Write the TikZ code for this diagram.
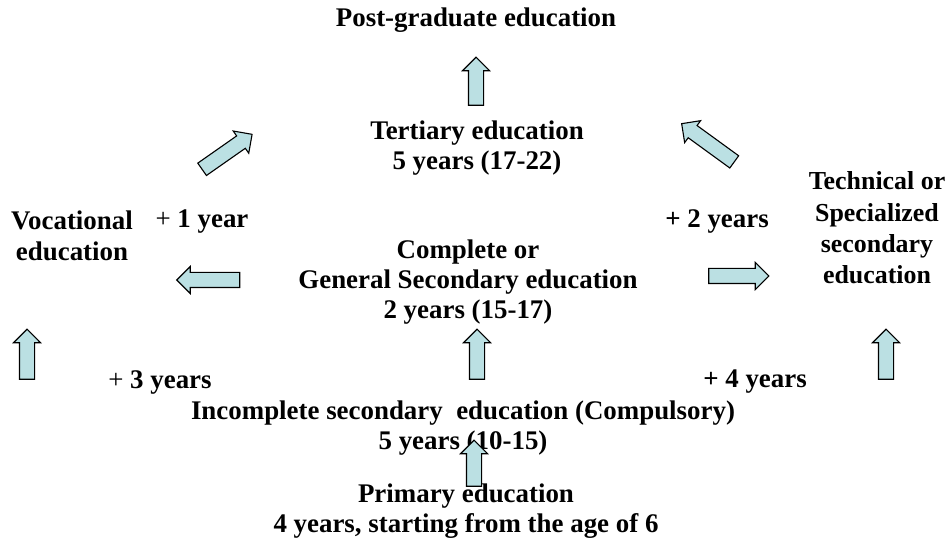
\documentclass[tikz,border=0pt]{standalone}
\usepackage{fontspec}
\setmainfont{Liberation Serif}
\usetikzlibrary{shapes.arrows}
\definecolor{arrowfill}{RGB}{187,224,227}
\begin{document}
\begin{tikzpicture}[
    lbl/.style={align=center,font=\bfseries\fontsize{27}{30.5}\selectfont,inner sep=0pt},
    blockarrow/.style={draw=black,line width=1.1bp,fill=arrowfill,single arrow,
      single arrow head extend=6bp,inner sep=0pt,inner ysep=7bp,
      minimum width=0pt,minimum height=#1},
    blockarrow/.default=48bp]
		%%
  \useasboundingbox (0bp,0bp) rectangle (951bp,549bp);
  \node (Post) at (476bp,529bp) [lbl] {Post-graduate education};
  \node (Tert) at (477bp,401bp) [lbl] {Tertiary education\\5 years (17-22)};
  \node (Voc) at (72bp,313bp) [lbl] {Vocational\\education};
  \node (Gen) at (468bp,267bp) [lbl] {Complete or\\General Secondary education\\2 years (15-17)};
  \node (Tech) at (877bp,321bp) [lbl,font=\bfseries\fontsize{26}{31.5}\selectfont] {Technical or\\Specialized\\secondary\\education};
  \node (Inc) at (463bp,121bp) [lbl] {Incomplete secondary~ education (Compulsory)\\5 years (10-15)};
  \node (Prim) at (466bp,38bp) [lbl] {Primary education\\4 years, starting from the age of 6};
  \node (One) at (202bp,327bp) [lbl] {{\mdseries +} 1 year};
  \node (Two) at (717bp,327bp) [lbl] {+ 2 years};
  \node (Three) at (160bp,167bp) [lbl] {{\mdseries +} 3 years};
  \node (Four) at (755bp,167bp) [lbl] {+ 4 years};
  \node (TopUp) at (476bp,464bp) [blockarrow,rotate=90] {};
  \node (DiagL) at (224bp,395bp) [blockarrow=61bp,rotate=35] {};
  \node (DiagR) at (711bp,404bp) [blockarrow=65bp,rotate=144] {};
  \node (ToVoc) at (212bp,269bp) [blockarrow=63bp,rotate=180] {};
  \node (ToTech) at (735bp,273bp) [blockarrow=60bp] {};
  \node (UpL) at (27bp,191bp) [blockarrow=50bp,rotate=90] {};
  \node (UpM) at (477bp,191bp) [blockarrow=50bp,rotate=90] {};
  \node (UpR) at (886bp,191bp) [blockarrow=50bp,rotate=90] {};
  \node (UpPrim) at (474bp,82bp) [blockarrow=46bp,rotate=90] {};
		%
\end{tikzpicture}
\end{document}
